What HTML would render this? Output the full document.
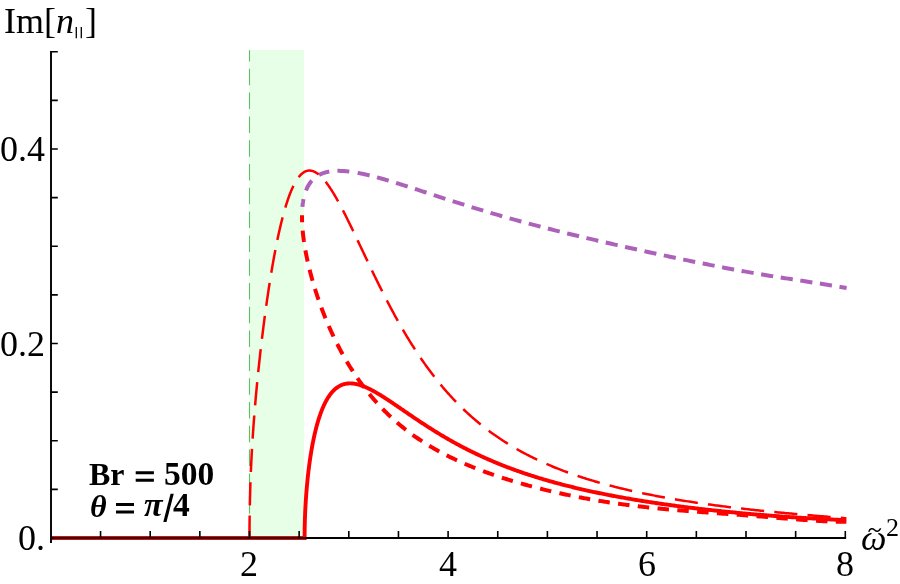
<!DOCTYPE html>
<html><head><meta charset="utf-8"><title>plot</title>
<style>
html,body{margin:0;padding:0;background:#fff;}
body{width:900px;height:584px;overflow:hidden;position:relative;font-family:"Liberation Serif",serif;}
svg{position:absolute;left:0;top:0;}
.t{will-change:transform;position:absolute;white-space:nowrap;line-height:1;color:#000;font-family:"Liberation Serif",serif;}
.n{font-size:36px;}
.b{font-size:32px;font-weight:bold;}
.i{font-style:italic;}
</style></head><body>
<svg width="900" height="584" viewBox="0 0 900 584">
<rect x="249.5" y="50" width="54.5" height="488" fill="#e6ffe6"/>
<path d="M249.5,50.3 V538" stroke="#5fc063" stroke-width="1.1" fill="none" stroke-dasharray="16.5 7.3" stroke-dashoffset="5.3"/>
<path d="M302.42,206.90 L302.46,206.44 L302.51,205.99 L302.56,205.54 L302.61,205.09 L302.66,204.65 L302.71,204.21 L302.77,203.77 L302.82,203.34 L302.88,202.91 L302.95,202.48 L303.01,202.05 L303.08,201.63 L303.14,201.21 L303.22,200.79 L303.29,200.38 L303.36,199.97 L303.44,199.56 L303.52,199.15 L303.60,198.75 L303.68,198.35 L303.77,197.96 L303.86,197.57 L303.94,197.18 L304.04,196.79 L304.13,196.41 L304.23,196.02 L304.32,195.65 L304.42,195.27 L304.53,194.90 L304.63,194.53 L304.74,194.17 L304.84,193.80 L304.96,193.45 L305.07,193.09 L305.18,192.74 L305.30,192.39 L305.42,192.04 L305.54,191.69 L305.66,191.35 L305.79,191.01 L305.92,190.68 L306.05,190.35 L306.18,190.02 L306.31,189.69 L306.45,189.37 L306.58,189.05 L306.72,188.73 L306.87,188.41 L307.01,188.10 L307.16,187.79 L307.31,187.49 L307.46,187.19 L307.61,186.89 L307.76,186.59 L307.92,186.30 L308.08,186.01 L308.24,185.72 L308.40,185.43 L308.57,185.15 L308.74,184.87 L308.91,184.60 L309.08,184.32 L309.25,184.05 L309.43,183.79 L309.61,183.52 L309.79,183.26 L309.97,183.00 L310.15,182.75 L310.34,182.50 L310.53,182.25 L310.72,182.00 L310.91,181.76 L311.11,181.52 L311.30,181.28 L311.50,181.04 L311.70,180.81 L311.91,180.58 L312.11,180.35 L312.32,180.13 L312.53,179.91 L312.74,179.69 L312.95,179.48 L313.17,179.26 L313.39,179.05 L313.61,178.85 L313.83,178.64 L314.05,178.44 L314.28,178.24 L314.51,178.05 L314.74,177.86 L314.97,177.67 L315.21,177.48 L315.44,177.30 L315.68,177.11 L315.92,176.93 L316.17,176.76 L316.41,176.59 L316.66,176.41 L316.91,176.25 L317.16,176.08 L317.42,175.92 L317.67,175.76 L317.93,175.60 L318.19,175.45 L318.45,175.30 L318.72,175.15 L318.98,175.00 L319.25,174.86 L319.52,174.72 L319.80,174.58 L320.07,174.44 L320.35,174.31 L320.63,174.18 L320.91,174.05 L321.19,173.93 L321.48,173.81 L321.76,173.69 L322.05,173.57 L322.35,173.46 L322.64,173.34 L322.94,173.23 L323.23,173.13 L323.53,173.02 L323.84,172.92 L324.14,172.82 L324.45,172.73 L324.76,172.63 L325.07,172.54 L325.38,172.45 L325.69,172.36 L326.01,172.28 L326.33,172.20 L326.65,172.12 L326.97,172.04 L327.30,171.97 L327.63,171.90 L327.96,171.83 L328.29,171.76 L328.62,171.70 L328.96,171.64 L329.30,171.58 L329.64,171.52 L329.98,171.47 L330.32,171.41 L330.67,171.36 L331.02,171.32 L331.37,171.27 L331.72,171.23 L332.08,171.19 L332.44,171.15 L332.79,171.12 L333.16,171.08 L333.52,171.05 L333.88,171.02 L334.25,171.00 L334.62,170.97 L334.99,170.95 L335.37,170.93 L335.74,170.92 L336.12,170.90 L336.50,170.89 L336.88,170.88 L337.27,170.87 L337.66,170.86 L338.04,170.86 L338.44,170.86 L338.83,170.86 L339.22,170.86 L339.62,170.87 L340.02,170.88 L340.42,170.89 L340.82,170.90 L341.23,170.91 L341.64,170.93 L342.05,170.95 L342.46,170.97 L342.87,170.99 L343.29,171.02 L343.71,171.04 L344.13,171.07 L344.55,171.10 L344.97,171.14 L345.40,171.17 L345.83,171.21 L346.26,171.25 L346.69,171.29 L347.13,171.33 L347.57,171.38 L348.01,171.43 L348.45,171.48 L348.89,171.53 L349.34,171.58 L349.78,171.64 L350.23,171.70 L350.69,171.75 L351.14,171.82 L351.60,171.88 L352.05,171.95 L352.51,172.01 L352.98,172.08 L353.44,172.15 L353.91,172.23 L354.38,172.30 L354.85,172.38 L355.32,172.46 L355.80,172.54 L356.27,172.62 L356.75,172.71 L357.23,172.79 L357.72,172.88 L358.20,172.97 L358.69,173.06 L359.18,173.16 L359.67,173.25 L360.17,173.35 L360.66,173.45 L361.16,173.55 L361.66,173.65 L362.16,173.76 L362.67,173.87 L363.17,173.97 L363.68,174.08 L364.19,174.20 L364.71,174.31 L365.22,174.42 L365.74,174.54 L366.26,174.66 L366.78,174.78 L367.30,174.90 L367.83,175.02 L368.36,175.15 L368.89,175.28 L369.42,175.40 L369.95,175.53 L370.49,175.67 L371.03,175.80 L371.57,175.93 L372.11,176.07 L372.65,176.21 L373.20,176.35 L373.75,176.49 L374.30,176.63 L374.85,176.78 L375.41,176.92 L375.97,177.07 L376.53,177.22 L377.09,177.37 L377.65,177.52 L378.22,177.68 L378.78,177.83 L379.35,177.99 L379.93,178.15 L380.50,178.30 L381.08,178.47 L381.66,178.63 L382.24,178.79 L382.82,178.96 L383.40,179.12 L383.99,179.29 L384.58,179.46 L385.17,179.63 L385.76,179.80 L386.36,179.98 L386.96,180.15 L387.55,180.33 L388.16,180.50 L388.76,180.68 L389.37,180.86 L389.97,181.04 L390.58,181.23 L391.20,181.41 L391.81,181.60 L392.43,181.78 L393.04,181.97 L393.66,182.16 L394.29,182.35 L394.91,182.54 L395.54,182.73 L396.17,182.93 L396.80,183.12 L397.43,183.32 L398.07,183.51 L398.70,183.71 L399.34,183.91 L399.99,184.11 L400.63,184.31 L401.27,184.52 L401.92,184.72 L402.57,184.92 L403.22,185.13 L403.88,185.34 L404.54,185.55 L405.19,185.76 L405.85,185.97 L406.52,186.18 L407.18,186.39 L407.85,186.60 L408.52,186.82 L409.19,187.03 L409.86,187.25 L410.54,187.47 L411.21,187.68 L411.89,187.90 L412.58,188.12 L413.26,188.34 L413.94,188.57 L414.63,188.79 L415.32,189.01 L416.01,189.24 L416.71,189.46 L417.41,189.69 L418.10,189.92 L418.80,190.14 L419.51,190.37 L420.21,190.60 L420.92,190.83 L421.63,191.06 L422.34,191.30 L423.05,191.53 L423.77,191.76 L424.48,192.00 L425.20,192.23 L425.93,192.47 L426.65,192.70 L427.38,192.94 L428.10,193.18 L428.83,193.42 L429.57,193.66 L430.30,193.90 L431.04,194.14 L431.77,194.38 L432.51,194.62 L433.26,194.86 L434.00,195.10 L434.75,195.35 L435.50,195.59 L436.25,195.84 L437.00,196.08 L437.76,196.33 L438.52,196.58 L439.27,196.82 L440.04,197.07 L440.80,197.32 L441.57,197.57 L442.33,197.82 L443.10,198.07 L443.88,198.32 L444.65,198.57 L445.43,198.82 L446.21,199.07 L446.99,199.32 L447.77,199.57 L448.55,199.83 L449.34,200.08 L450.13,200.33 L450.92,200.59 L451.71,200.84 L452.51,201.10 L453.31,201.35 L454.11,201.61 L454.91,201.86 L455.71,202.12 L456.52,202.38 L457.33,202.63 L458.14,202.89 L458.95,203.15 L459.76,203.40 L460.58,203.66 L461.40,203.92 L462.22,204.18 L463.04,204.44 L463.87,204.70 L464.69,204.96 L465.52,205.22 L466.35,205.48 L467.19,205.74 L468.02,206.00 L468.86,206.26 L469.70,206.52 L470.54,206.78 L471.38,207.04 L472.23,207.30 L473.08,207.56 L473.93,207.82 L474.78,208.09 L475.64,208.35 L476.49,208.61 L477.35,208.87 L478.21,209.13 L479.07,209.40 L479.94,209.66 L480.81,209.92 L481.68,210.18 L482.55,210.45 L483.42,210.71 L484.30,210.97 L485.17,211.23 L486.05,211.50 L486.93,211.76 L487.82,212.02 L488.70,212.29 L489.59,212.55 L490.48,212.81 L491.37,213.08 L492.27,213.34 L493.17,213.60 L494.06,213.86 L494.96,214.13 L495.87,214.39 L496.77,214.65 L497.68,214.92 L498.59,215.18 L499.50,215.44 L500.41,215.71 L501.33,215.97 L502.25,216.23 L503.17,216.50 L504.09,216.76 L505.01,217.02 L505.94,217.29 L506.87,217.55 L507.80,217.81 L508.73,218.07 L509.66,218.34 L510.60,218.60 L511.54,218.86 L512.48,219.12 L513.42,219.39 L514.37,219.65 L515.31,219.91 L516.26,220.17 L517.21,220.44 L518.17,220.70 L519.12,220.96 L520.08,221.22 L521.04,221.48 L522.00,221.75 L522.97,222.01 L523.93,222.27 L524.90,222.53 L525.87,222.79 L526.84,223.05 L527.82,223.32 L528.79,223.58 L529.77,223.84 L530.75,224.10 L531.74,224.36 L532.72,224.62 L533.71,224.88 L534.70,225.14 L535.69,225.40 L536.68,225.66 L537.68,225.92 L538.68,226.18 L539.68,226.44 L540.68,226.70 L541.68,226.96 L542.69,227.22 L543.70,227.48 L544.71,227.74 L545.72,228.00 L546.73,228.26 L547.75,228.52 L548.77,228.78 L549.79,229.04 L550.81,229.30 L551.84,229.56 L552.86,229.82 L553.89,230.08 L554.93,230.34 L555.96,230.60 L556.99,230.86 L558.03,231.11 L559.07,231.37 L560.11,231.63 L561.16,231.89 L562.20,232.15 L563.25,232.41 L564.30,232.67 L565.35,232.93 L566.41,233.18 L567.47,233.44 L568.52,233.70 L569.59,233.96 L570.65,234.22 L571.71,234.48 L572.78,234.74 L573.85,234.99 L574.92,235.25 L575.99,235.51 L577.07,235.77 L578.15,236.03 L579.23,236.29 L580.31,236.55 L581.39,236.80 L582.48,237.06 L583.57,237.32 L584.66,237.58 L585.75,237.84 L586.85,238.10 L587.94,238.36 L589.04,238.62 L590.14,238.87 L591.25,239.13 L592.35,239.39 L593.46,239.65 L594.57,239.91 L595.68,240.17 L596.79,240.43 L597.91,240.69 L599.03,240.95 L600.15,241.21 L601.27,241.47 L602.39,241.73 L603.52,241.98 L604.65,242.24 L605.78,242.50 L606.91,242.76 L608.04,243.02 L609.18,243.28 L610.32,243.54 L611.46,243.81 L612.60,244.07 L613.75,244.33 L614.90,244.59 L616.04,244.85 L617.20,245.11 L618.35,245.37 L619.51,245.63 L620.66,245.89 L621.82,246.15 L622.99,246.41 L624.15,246.68 L625.32,246.94 L626.48,247.20 L627.65,247.46 L628.83,247.72 L630.00,247.99 L631.18,248.25 L632.36,248.51 L633.54,248.77 L634.72,249.04 L635.91,249.30 L637.09,249.56 L638.28,249.83 L639.47,250.09 L640.67,250.35 L641.86,250.62 L643.06,250.88 L644.26,251.14 L645.46,251.41 L646.67,251.67 L647.87,251.93 L649.08,252.20 L650.29,252.46 L651.51,252.73 L652.72,252.99 L653.94,253.25 L655.16,253.52 L656.38,253.78 L657.60,254.05 L658.83,254.31 L660.05,254.58 L661.28,254.84 L662.51,255.11 L663.75,255.37 L664.98,255.64 L666.22,255.90 L667.46,256.17 L668.70,256.43 L669.95,256.69 L671.19,256.96 L672.44,257.22 L673.69,257.49 L674.94,257.75 L676.20,258.02 L677.46,258.28 L678.72,258.55 L679.98,258.81 L681.24,259.08 L682.50,259.34 L683.77,259.60 L685.04,259.87 L686.31,260.13 L687.59,260.40 L688.86,260.66 L690.14,260.92 L691.42,261.19 L692.70,261.45 L693.99,261.71 L695.27,261.97 L696.56,262.24 L697.85,262.50 L699.15,262.76 L700.44,263.02 L701.74,263.28 L703.04,263.54 L704.34,263.80 L705.64,264.06 L706.95,264.32 L708.25,264.58 L709.56,264.84 L710.87,265.10 L712.19,265.36 L713.50,265.62 L714.82,265.87 L716.14,266.13 L717.46,266.39 L718.79,266.64 L720.11,266.90 L721.44,267.15 L722.77,267.41 L724.11,267.66 L725.44,267.92 L726.78,268.17 L728.12,268.42 L729.46,268.67 L730.80,268.92 L732.15,269.18 L733.49,269.43 L734.84,269.67 L736.19,269.92 L737.55,270.17 L738.90,270.42 L740.26,270.66 L741.62,270.91 L742.98,271.16 L744.35,271.40 L745.72,271.64 L747.08,271.89 L748.45,272.13 L749.83,272.37 L751.20,272.61 L752.58,272.85 L753.96,273.09 L755.34,273.33 L756.72,273.57 L758.11,273.81 L759.50,274.04 L760.89,274.28 L762.28,274.51 L763.67,274.75 L765.07,274.98 L766.46,275.21 L767.86,275.44 L769.27,275.67 L770.67,275.91 L772.08,276.13 L773.49,276.36 L774.90,276.59 L776.31,276.82 L777.72,277.05 L779.14,277.27 L780.56,277.50 L781.98,277.72 L783.40,277.95 L784.83,278.17 L786.26,278.40 L787.69,278.62 L789.12,278.84 L790.55,279.07 L791.99,279.29 L793.43,279.51 L794.87,279.73 L796.31,279.95 L797.75,280.18 L799.20,280.40 L800.65,280.62 L802.10,280.84 L803.55,281.06 L805.01,281.28 L806.46,281.51 L807.92,281.73 L809.38,281.95 L810.85,282.18 L812.31,282.40 L813.78,282.63 L815.25,282.85 L816.72,283.08 L818.20,283.31 L819.67,283.54 L821.15,283.77 L822.63,284.00 L824.11,284.23 L825.60,284.47 L827.08,284.70 L828.57,284.94 L830.06,285.18 L831.56,285.42 L833.05,285.67 L834.55,285.92 L836.05,286.17 L837.55,286.42 L839.05,286.68 L840.56,286.94 L842.06,287.21 L843.57,287.47 L845.09,287.75 L846.60,288.02" stroke="#ad62ba" stroke-width="4" fill="none" stroke-dasharray="7.9 8.9 11.6 9.2 10.8 8.2 11.9 8.48 12.2 7.63 12.2 7.63 12.2 7.63 12.2 7.63 12.2 7.63 12.2 7.63 12.2 7.63 12.2 7.63 12.2 7.63 12.2 7.63 12.2 7.63 12.2 7.63 12.2 7.63 12.2 7.63 12.2 7.63 12.2 7.63 12.2 7.63 12.2 7.63 12.2 7.63 12.2 7.63 12.2 7.63 12.2 7.63 12.2 7.63 12.2 7.63 12.2 7.63 12.2 7.63 12.2 7.63 12.2 7.63 12.2 7.63 12.2 7.63 12.2 7.63 12.2 7.63 12.2 7.63 12.2 7.63 12.2 7.63 12.2 7.63 12.2 7.63 12.2 7.63 12.2 7.63 12.2 7.63 12.2 7.63 12.2 7.63 12.2 7.63 12.2 7.63 12.2 7.63 12.2 7.63 12.2 7.63 12.2 7.63 12.2 7.63 12.2 7.63 12.2 7.63 12.2 7.63 12.2 7.63 12.2 7.63 12.2 7.63 12.2 7.63 12.2 7.63 12.2 7.63 12.2 7.63 12.2 7.63 12.2 7.63 12.2 7.63 12.2 7.63 12.2 7.63 12.2 7.63 12.2 7.63 12.2 7.63 12.2 7.63 12.2 7.63 12.2 7.63 12.2 7.63 12.2 7.63"/>
<path d="M302.01,215.20 L302.00,215.73 L302.00,216.25 L302.00,216.79 L302.00,217.32 L302.01,217.86 L302.01,218.40 L302.02,218.94 L302.03,219.49 L302.04,220.04 L302.06,220.60 L302.08,221.15 L302.10,221.71 L302.12,222.27 L302.14,222.84 L302.17,223.41 L302.20,223.98 L302.23,224.55 L302.26,225.13 L302.30,225.71 L302.34,226.29 L302.38,226.88 L302.42,227.47 L302.46,228.06 L302.51,228.65 L302.56,229.25 L302.61,229.85 L302.66,230.45 L302.72,231.06 L302.78,231.67 L302.84,232.28 L302.90,232.89 L302.96,233.51 L303.03,234.13 L303.10,234.75 L303.17,235.38 L303.25,236.00 L303.32,236.63 L303.40,237.27 L303.48,237.90 L303.56,238.54 L303.65,239.18 L303.74,239.83 L303.82,240.47 L303.92,241.12 L304.01,241.77 L304.11,242.43 L304.20,243.08 L304.31,243.74 L304.41,244.41 L304.51,245.07 L304.62,245.74 L304.73,246.41 L304.84,247.08 L304.96,247.75 L305.07,248.43 L305.19,249.11 L305.31,249.79 L305.44,250.47 L305.56,251.16 L305.69,251.84 L305.82,252.54 L305.95,253.23 L306.08,253.92 L306.22,254.62 L306.36,255.32 L306.50,256.02 L306.64,256.73 L306.79,257.43 L306.94,258.14 L307.09,258.85 L307.24,259.56 L307.39,260.28 L307.55,260.99 L307.71,261.71 L307.87,262.43 L308.03,263.15 L308.20,263.88 L308.37,264.60 L308.54,265.33 L308.71,266.06 L308.89,266.79 L309.06,267.53 L309.24,268.26 L309.42,269.00 L309.61,269.74 L309.79,270.48 L309.98,271.22 L310.17,271.97 L310.36,272.71 L310.56,273.46 L310.76,274.21 L310.96,274.96 L311.16,275.72 L311.36,276.47 L311.57,277.22 L311.78,277.98 L311.99,278.74 L312.20,279.50 L312.41,280.26 L312.63,281.03 L312.85,281.79 L313.07,282.56 L313.30,283.32 L313.52,284.09 L313.75,284.86 L313.98,285.63 L314.22,286.40 L314.45,287.18 L314.69,287.95 L314.93,288.73 L315.17,289.50 L315.42,290.28 L315.66,291.06 L315.91,291.84 L316.16,292.62 L316.41,293.40 L316.67,294.18 L316.93,294.97 L317.19,295.75 L317.45,296.54 L317.72,297.32 L317.98,298.11 L318.25,298.90 L318.52,299.69 L318.80,300.48 L319.07,301.27 L319.35,302.06 L319.63,302.85 L319.91,303.64 L320.20,304.43 L320.48,305.22 L320.77,306.02 L321.06,306.81 L321.36,307.61 L321.65,308.40 L321.95,309.20 L322.25,309.99 L322.56,310.79 L322.86,311.59 L323.17,312.38 L323.48,313.18 L323.79,313.98 L324.10,314.77 L324.42,315.57 L324.74,316.37 L325.06,317.17 L325.38,317.96 L325.71,318.76 L326.03,319.56 L326.36,320.36 L326.69,321.16 L327.03,321.95 L327.37,322.75 L327.70,323.55 L328.04,324.35 L328.39,325.15 L328.73,325.94 L329.08,326.74 L329.43,327.54 L329.78,328.33 L330.14,329.13 L330.49,329.92 L330.85,330.72 L331.21,331.52 L331.58,332.31 L331.94,333.10 L332.31,333.90 L332.68,334.69 L333.05,335.48 L333.43,336.28 L333.80,337.07 L334.18,337.86 L334.56,338.65 L334.95,339.44 L335.33,340.23 L335.72,341.02 L336.11,341.80 L336.50,342.59 L336.90,343.38 L337.30,344.16 L337.70,344.95 L338.10,345.73 L338.50,346.51 L338.91,347.29 L339.31,348.07 L339.72,348.85 L340.14,349.63 L340.55,350.41 L340.97,351.18 L341.39,351.96 L341.81,352.73 L342.23,353.51 L342.66,354.28 L343.09,355.05 L343.52,355.82 L343.95,356.59 L344.39,357.35 L344.83,358.12 L345.27,358.88 L345.71,359.65 L346.15,360.41 L346.60,361.17 L347.05,361.93 L347.50,362.68 L347.95,363.44 L348.41,364.19 L348.86,364.95 L349.32,365.70 L349.79,366.45 L350.25,367.20 L350.72,367.94 L351.19,368.69 L351.66,369.43 L352.13,370.17 L352.60,370.91 L353.08,371.65 L353.56,372.39 L354.05,373.12 L354.53,373.85 L355.02,374.59 L355.51,375.32 L356.00,376.04 L356.49,376.77 L356.99,377.49 L357.48,378.21 L357.98,378.94 L358.49,379.65 L358.99,380.37 L359.50,381.08 L360.01,381.80 L360.52,382.51 L361.03,383.22 L361.55,383.92 L362.07,384.63 L362.59,385.33 L363.11,386.03 L363.64,386.73 L364.16,387.42 L364.69,388.12 L365.22,388.81 L365.76,389.50 L366.29,390.19 L366.83,390.87 L367.37,391.56 L367.92,392.24 L368.46,392.92 L369.01,393.59 L369.56,394.27 L370.11,394.94 L370.66,395.61 L371.22,396.28 L371.78,396.94 L372.34,397.61 L372.90,398.27 L373.47,398.93 L374.04,399.58 L374.61,400.24 L375.18,400.89 L375.75,401.54 L376.33,402.18 L376.91,402.83 L377.49,403.47 L378.07,404.11 L378.66,404.75 L379.25,405.38 L379.84,406.02 L380.43,406.65 L381.02,407.27 L381.62,407.90 L382.22,408.52 L382.82,409.14 L383.42,409.76 L384.03,410.38 L384.64,410.99 L385.25,411.60 L385.86,412.21 L386.48,412.81 L387.09,413.42 L387.71,414.02 L388.33,414.62 L388.96,415.21 L389.58,415.81 L390.21,416.40 L390.84,416.98 L391.47,417.57 L392.11,418.15 L392.75,418.73 L393.39,419.31 L394.03,419.89 L394.67,420.46 L395.32,421.03 L395.97,421.60 L396.62,422.17 L397.27,422.73 L397.93,423.29 L398.58,423.85 L399.24,424.41 L399.90,424.96 L400.57,425.51 L401.23,426.06 L401.90,426.61 L402.57,427.15 L403.25,427.69 L403.92,428.23 L404.60,428.77 L405.28,429.30 L405.96,429.83 L406.65,430.36 L407.33,430.89 L408.02,431.41 L408.71,431.93 L409.41,432.45 L410.10,432.97 L410.80,433.48 L411.50,434.00 L412.20,434.50 L412.91,435.01 L413.61,435.52 L414.32,436.02 L415.03,436.52 L415.75,437.02 L416.46,437.51 L417.18,438.00 L417.90,438.49 L418.62,438.98 L419.35,439.47 L420.08,439.95 L420.81,440.43 L421.54,440.91 L422.27,441.39 L423.01,441.86 L423.75,442.33 L424.49,442.80 L425.23,443.27 L425.97,443.74 L426.72,444.20 L427.47,444.66 L428.22,445.12 L428.98,445.57 L429.73,446.03 L430.49,446.48 L431.25,446.93 L432.01,447.38 L432.78,447.82 L433.55,448.26 L434.32,448.71 L435.09,449.14 L435.86,449.58 L436.64,450.02 L437.42,450.45 L438.20,450.88 L438.98,451.31 L439.77,451.73 L440.56,452.16 L441.34,452.58 L442.14,453.00 L442.93,453.42 L443.73,453.83 L444.53,454.25 L445.33,454.66 L446.13,455.07 L446.94,455.48 L447.74,455.88 L448.56,456.29 L449.37,456.69 L450.18,457.09 L451.00,457.49 L451.82,457.89 L452.64,458.28 L453.46,458.67 L454.29,459.07 L455.12,459.45 L455.95,459.84 L456.78,460.23 L457.61,460.61 L458.45,460.99 L459.29,461.37 L460.13,461.75 L460.98,462.13 L461.82,462.50 L462.67,462.88 L463.52,463.25 L464.37,463.62 L465.23,463.99 L466.09,464.35 L466.95,464.72 L467.81,465.08 L468.67,465.44 L469.54,465.80 L470.41,466.16 L471.28,466.52 L472.15,466.87 L473.02,467.23 L473.90,467.58 L474.78,467.93 L475.66,468.28 L476.55,468.62 L477.43,468.97 L478.32,469.31 L479.21,469.66 L480.11,470.00 L481.00,470.34 L481.90,470.68 L482.80,471.01 L483.70,471.35 L484.61,471.68 L485.51,472.02 L486.42,472.35 L487.33,472.68 L488.25,473.00 L489.16,473.33 L490.08,473.66 L491.00,473.98 L491.92,474.30 L492.85,474.62 L493.77,474.94 L494.70,475.26 L495.63,475.58 L496.57,475.90 L497.50,476.21 L498.44,476.52 L499.38,476.83 L500.33,477.15 L501.27,477.45 L502.22,477.76 L503.17,478.07 L504.12,478.37 L505.07,478.68 L506.03,478.98 L506.99,479.28 L507.95,479.58 L508.91,479.88 L509.87,480.18 L510.84,480.48 L511.81,480.77 L512.78,481.07 L513.76,481.36 L514.73,481.65 L515.71,481.94 L516.69,482.23 L517.68,482.52 L518.66,482.80 L519.65,483.09 L520.64,483.37 L521.63,483.66 L522.62,483.94 L523.62,484.22 L524.62,484.50 L525.62,484.78 L526.62,485.05 L527.63,485.33 L528.64,485.60 L529.65,485.88 L530.66,486.15 L531.67,486.42 L532.69,486.69 L533.71,486.96 L534.73,487.22 L535.75,487.49 L536.78,487.76 L537.81,488.02 L538.84,488.28 L539.87,488.54 L540.90,488.80 L541.94,489.06 L542.98,489.32 L544.02,489.58 L545.06,489.83 L546.11,490.09 L547.16,490.34 L548.21,490.59 L549.26,490.84 L550.32,491.09 L551.37,491.34 L552.43,491.58 L553.49,491.83 L554.56,492.07 L555.62,492.32 L556.69,492.56 L557.76,492.80 L558.84,493.04 L559.91,493.27 L560.99,493.51 L562.07,493.75 L563.15,493.98 L564.23,494.21 L565.32,494.44 L566.41,494.67 L567.50,494.90 L568.59,495.13 L569.69,495.36 L570.78,495.58 L571.88,495.81 L572.99,496.03 L574.09,496.25 L575.20,496.47 L576.31,496.69 L577.42,496.90 L578.53,497.12 L579.65,497.34 L580.76,497.55 L581.88,497.76 L583.01,497.97 L584.13,498.18 L585.26,498.39 L586.39,498.59 L587.52,498.80 L588.65,499.00 L589.79,499.20 L590.92,499.40 L592.06,499.60 L593.21,499.80 L594.35,500.00 L595.50,500.19 L596.65,500.39 L597.80,500.58 L598.95,500.77 L600.11,500.96 L601.27,501.15 L602.43,501.34 L603.59,501.52 L604.75,501.71 L605.92,501.89 L607.09,502.07 L608.26,502.25 L609.44,502.43 L610.61,502.60 L611.79,502.78 L612.97,502.95 L614.15,503.13 L615.34,503.30 L616.53,503.47 L617.72,503.64 L618.91,503.80 L620.10,503.97 L621.30,504.13 L622.50,504.30 L623.70,504.46 L624.90,504.62 L626.10,504.78 L627.31,504.93 L628.52,505.09 L629.73,505.24 L630.95,505.40 L632.16,505.55 L633.38,505.70 L634.60,505.85 L635.83,506.00 L637.05,506.14 L638.28,506.29 L639.51,506.43 L640.74,506.57 L641.98,506.71 L643.21,506.85 L644.45,506.99 L645.69,507.13 L646.94,507.26 L648.18,507.40 L649.43,507.53 L650.68,507.67 L651.93,507.80 L653.19,507.93 L654.45,508.05 L655.70,508.18 L656.97,508.31 L658.23,508.43 L659.50,508.56 L660.76,508.68 L662.03,508.80 L663.31,508.92 L664.58,509.04 L665.86,509.16 L667.14,509.28 L668.42,509.40 L669.70,509.51 L670.99,509.63 L672.28,509.74 L673.57,509.85 L674.86,509.97 L676.16,510.08 L677.45,510.19 L678.75,510.30 L680.05,510.41 L681.36,510.52 L682.67,510.62 L683.97,510.73 L685.28,510.84 L686.60,510.94 L687.91,511.05 L689.23,511.15 L690.55,511.26 L691.87,511.36 L693.20,511.46 L694.52,511.56 L695.85,511.67 L697.18,511.77 L698.52,511.87 L699.85,511.97 L701.19,512.07 L702.53,512.17 L703.87,512.27 L705.22,512.37 L706.56,512.47 L707.91,512.57 L709.26,512.67 L710.62,512.77 L711.97,512.87 L713.33,512.97 L714.69,513.06 L716.05,513.16 L717.42,513.26 L718.78,513.36 L720.15,513.46 L721.52,513.56 L722.90,513.66 L724.27,513.76 L725.65,513.86 L727.03,513.96 L728.42,514.06 L729.80,514.16 L731.19,514.26 L732.58,514.37 L733.97,514.47 L735.36,514.57 L736.76,514.67 L738.16,514.78 L739.56,514.88 L740.96,514.99 L742.36,515.09 L743.77,515.20 L745.18,515.30 L746.59,515.41 L748.01,515.52 L749.42,515.63 L750.84,515.73 L752.26,515.84 L753.69,515.95 L755.11,516.06 L756.54,516.18 L757.97,516.29 L759.40,516.40 L760.84,516.51 L762.27,516.63 L763.71,516.74 L765.15,516.86 L766.59,516.97 L768.04,517.09 L769.49,517.20 L770.94,517.32 L772.39,517.44 L773.84,517.56 L775.30,517.67 L776.76,517.79 L778.22,517.91 L779.69,518.03 L781.15,518.15 L782.62,518.27 L784.09,518.39 L785.56,518.51 L787.04,518.63 L788.51,518.75 L789.99,518.87 L791.47,518.99 L792.96,519.10 L794.44,519.22 L795.93,519.34 L797.42,519.46 L798.91,519.57 L800.41,519.69 L801.91,519.80 L803.41,519.91 L804.91,520.02 L806.41,520.13 L807.92,520.24 L809.43,520.35 L810.94,520.45 L812.45,520.55 L813.96,520.65 L815.48,520.75 L817.00,520.84 L818.52,520.93 L820.05,521.01 L821.57,521.10 L823.10,521.18 L824.63,521.25 L826.17,521.32 L827.70,521.39 L829.24,521.45 L830.78,521.50 L832.32,521.55 L833.86,521.60 L835.41,521.63 L836.96,521.66 L838.51,521.69 L840.06,521.70 L841.62,521.71 L843.18,521.71 L844.74,521.70 L846.30,521.68" stroke="#ff0000" stroke-width="4" fill="none" stroke-dasharray="7.05 8.37 11.5 8.37 11.5 8.37 11.5 8.37 11.5 8.37 11.5 8.37 11.5 8.37 11.5 8.37 11.5 8.37 11.5 8.37 11.5 8.37 11.5 8.37 11.5 8.37 11.5 8.37 11.5 8.37 11.5 8.37 11.5 8.37 11.5 8.37 11.5 8.37 11.5 8.37 11.5 8.37 11.5 8.37 11.5 8.37 11.5 8.37 11.5 8.37 11.5 8.37 11.5 8.37 11.5 8.37 11.5 8.37 11.5 8.37 11.5 8.37 11.5 8.37 11.5 8.37 11.5 8.37 11.5 8.37 11.5 8.37 11.5 8.37 11.5 8.37 11.5 8.37 11.5 8.37 11.5 8.37 11.5 8.37 11.5 8.37 11.5 8.37 11.5 8.37 11.5 8.37 11.5 8.37 11.5 8.37 11.5 8.37 11.5 8.37 11.5 8.37 11.5 8.37 11.5 8.37 11.5 8.37 11.5 8.37 11.5 8.37 11.5 8.37 11.5 8.37 11.5 8.37 11.5 8.37 11.5 8.37 11.5 8.37 11.5 8.37 11.5 8.37 11.5 8.37 11.5 8.37 11.5 8.37 11.5 8.37 11.5 8.37 11.5 8.37 11.5 8.37 11.5 8.37 11.5 8.37 11.5 8.37 11.5 8.37 11.5 8.37"/>
<path d="M249.50,538.00 L249.50,535.99 L249.50,533.98 L249.51,531.97 L249.52,529.96 L249.53,527.95 L249.54,525.94 L249.56,523.93 L249.58,521.93 L249.60,519.92 L249.62,517.92 L249.65,515.92 L249.68,513.93 L249.71,511.93 L249.74,509.94 L249.77,507.95 L249.81,505.97 L249.85,503.98 L249.90,502.00 L249.94,500.03 L249.99,498.05 L250.04,496.08 L250.09,494.11 L250.15,492.14 L250.20,490.18 L250.26,488.22 L250.33,486.26 L250.39,484.31 L250.46,482.35 L250.53,480.40 L250.60,478.45 L250.67,476.51 L250.75,474.56 L250.83,472.62 L250.91,470.68 L251.00,468.74 L251.08,466.80 L251.17,464.87 L251.26,462.93 L251.36,461.00 L251.45,459.07 L251.55,457.14 L251.65,455.21 L251.76,453.28 L251.86,451.35 L251.97,449.42 L252.08,447.49 L252.20,445.56 L252.31,443.63 L252.43,441.71 L252.55,439.78 L252.68,437.85 L252.80,435.92 L252.93,433.98 L253.06,432.05 L253.19,430.12 L253.33,428.18 L253.47,426.25 L253.61,424.31 L253.75,422.37 L253.90,420.43 L254.05,418.49 L254.20,416.54 L254.35,414.60 L254.50,412.65 L254.66,410.70 L254.82,408.75 L254.98,406.79 L255.15,404.83 L255.32,402.87 L255.49,400.91 L255.66,398.95 L255.83,396.98 L256.01,395.01 L256.19,393.03 L256.37,391.06 L256.56,389.08 L256.74,387.09 L256.93,385.11 L257.12,383.12 L257.32,381.13 L257.51,379.14 L257.71,377.14 L257.91,375.14 L258.12,373.14 L258.32,371.13 L258.53,369.12 L258.75,367.11 L258.96,365.10 L259.18,363.08 L259.39,361.06 L259.61,359.04 L259.84,357.01 L260.06,354.99 L260.29,352.96 L260.52,350.93 L260.76,348.89 L260.99,346.86 L261.23,344.82 L261.47,342.78 L261.71,340.74 L261.96,338.70 L262.21,336.66 L262.46,334.61 L262.71,332.57 L262.97,330.52 L263.22,328.48 L263.48,326.43 L263.75,324.38 L264.01,322.34 L264.28,320.29 L264.55,318.24 L264.82,316.20 L265.10,314.15 L265.37,312.11 L265.65,310.07 L265.94,308.03 L266.22,305.99 L266.51,303.95 L266.80,301.92 L267.09,299.89 L267.38,297.86 L267.68,295.83 L267.98,293.81 L268.28,291.80 L268.59,289.78 L268.89,287.77 L269.20,285.77 L269.51,283.77 L269.83,281.78 L270.14,279.79 L270.46,277.81 L270.78,275.84 L271.11,273.87 L271.43,271.91 L271.76,269.96 L272.09,268.01 L272.43,266.08 L272.76,264.15 L273.10,262.23 L273.44,260.32 L273.78,258.43 L274.13,256.54 L274.48,254.66 L274.83,252.79 L275.18,250.94 L275.54,249.09 L275.89,247.26 L276.25,245.44 L276.62,243.64 L276.98,241.85 L277.35,240.07 L277.72,238.30 L278.09,236.55 L278.47,234.82 L278.85,233.10 L279.23,231.39 L279.61,229.71 L279.99,228.04 L280.38,226.38 L280.77,224.75 L281.16,223.13 L281.56,221.53 L281.95,219.95 L282.35,218.38 L282.75,216.84 L283.16,215.31 L283.56,213.81 L283.97,212.33 L284.39,210.86 L284.80,209.42 L285.22,208.00 L285.64,206.61 L286.06,205.23 L286.48,203.88 L286.91,202.55 L287.34,201.24 L287.77,199.96 L288.20,198.70 L288.64,197.46 L289.07,196.25 L289.52,195.07 L289.96,193.90 L290.41,192.77 L290.85,191.66 L291.30,190.58 L291.76,189.52 L292.21,188.49 L292.67,187.49 L293.13,186.51 L293.59,185.56 L294.06,184.64 L294.53,183.75 L295.00,182.88 L295.47,182.04 L295.95,181.23 L296.42,180.45 L296.90,179.70 L297.39,178.98 L297.87,178.28 L298.36,177.62 L298.85,176.98 L299.34,176.38 L299.83,175.80 L300.33,175.26 L300.83,174.74 L301.33,174.25 L301.84,173.80 L302.34,173.37 L302.85,172.97 L303.37,172.61 L303.88,172.27 L304.40,171.96 L304.92,171.69 L305.44,171.44 L305.96,171.23 L306.49,171.04 L307.02,170.89 L307.55,170.76 L308.08,170.67 L308.62,170.61 L309.16,170.57 L309.70,170.57 L310.24,170.59 L310.79,170.65 L311.34,170.74 L311.89,170.85 L312.44,171.00 L313.00,171.17 L313.55,171.37 L314.11,171.61 L314.68,171.87 L315.24,172.16 L315.81,172.48 L316.38,172.82 L316.95,173.20 L317.53,173.60 L318.11,174.03 L318.69,174.49 L319.27,174.98 L319.86,175.49 L320.44,176.03 L321.03,176.60 L321.63,177.19 L322.22,177.81 L322.82,178.46 L323.42,179.13 L324.02,179.83 L324.62,180.55 L325.23,181.29 L325.84,182.07 L326.45,182.86 L327.07,183.68 L327.68,184.52 L328.30,185.39 L328.92,186.28 L329.55,187.19 L330.18,188.12 L330.80,189.08 L331.44,190.05 L332.07,191.05 L332.71,192.07 L333.34,193.11 L333.99,194.17 L334.63,195.25 L335.28,196.35 L335.92,197.47 L336.58,198.61 L337.23,199.76 L337.89,200.93 L338.54,202.13 L339.20,203.33 L339.87,204.56 L340.53,205.80 L341.20,207.06 L341.87,208.33 L342.54,209.62 L343.22,210.92 L343.90,212.24 L344.58,213.58 L345.26,214.92 L345.95,216.28 L346.63,217.65 L347.32,219.04 L348.02,220.44 L348.71,221.85 L349.41,223.27 L350.11,224.70 L350.81,226.15 L351.52,227.60 L352.22,229.06 L352.93,230.54 L353.65,232.02 L354.36,233.51 L355.08,235.01 L355.80,236.52 L356.52,238.04 L357.24,239.56 L357.97,241.10 L358.70,242.63 L359.43,244.18 L360.16,245.73 L360.90,247.29 L361.64,248.85 L362.38,250.42 L363.13,251.99 L363.87,253.57 L364.62,255.15 L365.37,256.73 L366.12,258.32 L366.88,259.91 L367.64,261.51 L368.40,263.11 L369.16,264.70 L369.93,266.31 L370.70,267.91 L371.47,269.51 L372.24,271.12 L373.02,272.73 L373.80,274.33 L374.58,275.94 L375.36,277.55 L376.14,279.16 L376.93,280.76 L377.72,282.37 L378.52,283.98 L379.31,285.58 L380.11,287.18 L380.91,288.78 L381.71,290.38 L382.52,291.98 L383.32,293.58 L384.13,295.17 L384.94,296.76 L385.76,298.34 L386.58,299.93 L387.40,301.51 L388.22,303.08 L389.04,304.66 L389.87,306.23 L390.70,307.79 L391.53,309.35 L392.37,310.91 L393.20,312.46 L394.04,314.00 L394.88,315.55 L395.73,317.08 L396.57,318.61 L397.42,320.14 L398.27,321.66 L399.13,323.17 L399.98,324.68 L400.84,326.19 L401.70,327.68 L402.57,329.17 L403.43,330.66 L404.30,332.14 L405.17,333.61 L406.05,335.07 L406.92,336.53 L407.80,337.98 L408.68,339.43 L409.56,340.86 L410.45,342.29 L411.34,343.72 L412.23,345.13 L413.12,346.54 L414.02,347.94 L414.91,349.33 L415.81,350.72 L416.72,352.10 L417.62,353.47 L418.53,354.83 L419.44,356.19 L420.35,357.54 L421.27,358.88 L422.18,360.21 L423.10,361.53 L424.03,362.85 L424.95,364.15 L425.88,365.45 L426.81,366.75 L427.74,368.03 L428.67,369.30 L429.61,370.57 L430.55,371.83 L431.49,373.08 L432.43,374.32 L433.38,375.56 L434.33,376.78 L435.28,378.00 L436.24,379.21 L437.19,380.41 L438.15,381.61 L439.11,382.79 L440.08,383.97 L441.04,385.14 L442.01,386.29 L442.98,387.45 L443.96,388.59 L444.93,389.73 L445.91,390.85 L446.89,391.97 L447.87,393.08 L448.86,394.18 L449.85,395.28 L450.84,396.36 L451.83,397.44 L452.83,398.51 L453.82,399.57 L454.83,400.63 L455.83,401.67 L456.83,402.71 L457.84,403.74 L458.85,404.76 L459.86,405.78 L460.88,406.78 L461.90,407.78 L462.92,408.77 L463.94,409.75 L464.96,410.73 L465.99,411.70 L467.02,412.65 L468.05,413.61 L469.09,414.55 L470.12,415.49 L471.16,416.42 L472.21,417.34 L473.25,418.25 L474.30,419.16 L475.35,420.06 L476.40,420.95 L477.45,421.83 L478.51,422.71 L479.57,423.58 L480.63,424.45 L481.69,425.30 L482.76,426.15 L483.83,426.99 L484.90,427.83 L485.97,428.66 L487.05,429.48 L488.13,430.29 L489.21,431.10 L490.29,431.90 L491.38,432.70 L492.47,433.48 L493.56,434.26 L494.65,435.04 L495.74,435.81 L496.84,436.57 L497.94,437.32 L499.05,438.07 L500.15,438.81 L501.26,439.55 L502.37,440.28 L503.48,441.00 L504.60,441.72 L505.72,442.43 L506.84,443.14 L507.96,443.84 L509.08,444.53 L510.21,445.22 L511.34,445.90 L512.47,446.58 L513.61,447.25 L514.74,447.92 L515.88,448.58 L517.03,449.23 L518.17,449.88 L519.32,450.52 L520.47,451.16 L521.62,451.79 L522.77,452.42 L523.93,453.04 L525.09,453.65 L526.25,454.26 L527.41,454.87 L528.58,455.47 L529.75,456.07 L530.92,456.66 L532.10,457.24 L533.27,457.82 L534.45,458.40 L535.63,458.97 L536.81,459.53 L538.00,460.10 L539.19,460.65 L540.38,461.20 L541.57,461.75 L542.77,462.29 L543.97,462.83 L545.17,463.36 L546.37,463.89 L547.58,464.42 L548.78,464.94 L550.00,465.45 L551.21,465.97 L552.42,466.47 L553.64,466.98 L554.86,467.48 L556.08,467.97 L557.31,468.46 L558.54,468.95 L559.77,469.43 L561.00,469.91 L562.23,470.38 L563.47,470.85 L564.71,471.32 L565.95,471.78 L567.20,472.24 L568.45,472.70 L569.69,473.15 L570.95,473.60 L572.20,474.04 L573.46,474.48 L574.72,474.92 L575.98,475.35 L577.24,475.78 L578.51,476.21 L579.78,476.63 L581.05,477.05 L582.32,477.46 L583.60,477.88 L584.88,478.29 L586.16,478.69 L587.44,479.10 L588.73,479.49 L590.02,479.89 L591.31,480.28 L592.60,480.67 L593.90,481.06 L595.20,481.44 L596.50,481.82 L597.80,482.20 L599.11,482.58 L600.42,482.95 L601.73,483.32 L603.04,483.68 L604.36,484.04 L605.67,484.40 L606.99,484.76 L608.32,485.11 L609.64,485.47 L610.97,485.81 L612.30,486.16 L613.63,486.50 L614.97,486.84 L616.31,487.18 L617.65,487.52 L618.99,487.85 L620.33,488.18 L621.68,488.51 L623.03,488.83 L624.38,489.15 L625.74,489.47 L627.09,489.79 L628.45,490.10 L629.81,490.42 L631.18,490.73 L632.55,491.03 L633.91,491.34 L635.29,491.64 L636.66,491.94 L638.04,492.24 L639.42,492.53 L640.80,492.83 L642.18,493.12 L643.57,493.41 L644.96,493.69 L646.35,493.98 L647.74,494.26 L649.14,494.54 L650.54,494.82 L651.94,495.10 L653.34,495.37 L654.75,495.64 L656.15,495.91 L657.57,496.18 L658.98,496.44 L660.39,496.71 L661.81,496.97 L663.23,497.23 L664.66,497.49 L666.08,497.74 L667.51,498.00 L668.94,498.25 L670.37,498.50 L671.81,498.75 L673.25,498.99 L674.69,499.24 L676.13,499.48 L677.57,499.72 L679.02,499.96 L680.47,500.20 L681.92,500.43 L683.38,500.67 L684.83,500.90 L686.29,501.13 L687.76,501.36 L689.22,501.58 L690.69,501.81 L692.16,502.03 L693.63,502.26 L695.10,502.48 L696.58,502.70 L698.06,502.91 L699.54,503.13 L701.02,503.34 L702.51,503.56 L704.00,503.77 L705.49,503.98 L706.99,504.18 L708.48,504.39 L709.98,504.60 L711.48,504.80 L712.99,505.00 L714.49,505.20 L716.00,505.40 L717.51,505.60 L719.02,505.80 L720.54,505.99 L722.06,506.19 L723.58,506.38 L725.10,506.57 L726.63,506.76 L728.16,506.95 L729.69,507.14 L731.22,507.32 L732.75,507.51 L734.29,507.69 L735.83,507.88 L737.38,508.06 L738.92,508.24 L740.47,508.42 L742.02,508.59 L743.57,508.77 L745.13,508.95 L746.68,509.12 L748.24,509.29 L749.80,509.47 L751.37,509.64 L752.94,509.81 L754.51,509.98 L756.08,510.14 L757.65,510.31 L759.23,510.48 L760.81,510.64 L762.39,510.81 L763.97,510.97 L765.56,511.13 L767.15,511.29 L768.74,511.45 L770.34,511.61 L771.93,511.77 L773.53,511.93 L775.13,512.09 L776.74,512.24 L778.34,512.40 L779.95,512.55 L781.56,512.71 L783.18,512.86 L784.79,513.01 L786.41,513.16 L788.03,513.31 L789.65,513.46 L791.28,513.61 L792.91,513.76 L794.54,513.91 L796.17,514.06 L797.81,514.20 L799.45,514.35 L801.09,514.50 L802.73,514.64 L804.37,514.79 L806.02,514.93 L807.67,515.07 L809.32,515.22 L810.98,515.36 L812.64,515.50 L814.30,515.64 L815.96,515.78 L817.62,515.92 L819.29,516.06 L820.96,516.20 L822.63,516.34 L824.31,516.48 L825.98,516.62 L827.66,516.76 L829.35,516.90 L831.03,517.04 L832.72,517.17 L834.41,517.31 L836.10,517.45 L837.79,517.59 L839.49,517.72 L841.19,517.86 L842.89,518.00 L844.59,518.13 L846.30,518.27" stroke="#ff0000" stroke-width="2.5" fill="none" stroke-dasharray="22.45 10.19 23.2 10.19 23.2 10.19 23.2 10.19 23.2 10.19 23.2 10.19 23.2 10.19 23.2 10.19 23.2 10.19 23.2 10.19 23.2 10.19 23.2 10.19 23.2 10.19 23.2 10.19 23.2 10.19 23.2 10.19 23.2 10.19 23.2 10.19 23.2 10.19 23.2 10.19 23.2 10.19 23.2 10.19 23.2 10.19 23.2 10.19 23.2 10.19 23.2 10.19 23.2 10.19 23.2 10.19 23.2 10.19 23.2 10.19 23.2 10.19 23.2 10.19 23.2 10.19 23.2 10.19 23.2 10.19 23.2 10.19 23.2 10.19 23.2 10.19 23.2 10.19 23.2 10.19 23.2 10.19 23.2 10.19 23.2 10.19 23.2 10.19 23.2 10.19"/>
<path d="M51.00,538.00 L304.60,538.00 L304.60,536.90 L304.60,535.80 L304.61,534.69 L304.62,533.59 L304.63,532.47 L304.64,531.36 L304.65,530.25 L304.67,529.13 L304.69,528.01 L304.71,526.88 L304.73,525.76 L304.76,524.63 L304.79,523.50 L304.82,522.37 L304.85,521.24 L304.88,520.11 L304.92,518.97 L304.96,517.83 L305.00,516.70 L305.04,515.56 L305.09,514.41 L305.14,513.27 L305.19,512.13 L305.24,510.99 L305.29,509.84 L305.35,508.70 L305.41,507.55 L305.47,506.41 L305.53,505.26 L305.60,504.12 L305.67,502.97 L305.74,501.82 L305.81,500.68 L305.88,499.53 L305.96,498.39 L306.04,497.24 L306.12,496.10 L306.20,494.95 L306.29,493.81 L306.37,492.67 L306.46,491.53 L306.56,490.39 L306.65,489.25 L306.75,488.11 L306.85,486.98 L306.95,485.85 L307.05,484.71 L307.15,483.58 L307.26,482.45 L307.37,481.33 L307.48,480.20 L307.60,479.08 L307.71,477.96 L307.83,476.84 L307.95,475.73 L308.08,474.61 L308.20,473.51 L308.33,472.40 L308.46,471.29 L308.59,470.19 L308.73,469.10 L308.86,468.00 L309.00,466.91 L309.14,465.82 L309.28,464.74 L309.43,463.66 L309.58,462.58 L309.73,461.51 L309.88,460.44 L310.03,459.38 L310.19,458.32 L310.35,457.26 L310.51,456.21 L310.67,455.17 L310.84,454.12 L311.00,453.09 L311.17,452.05 L311.35,451.03 L311.52,450.00 L311.70,448.99 L311.87,447.97 L312.05,446.97 L312.24,445.97 L312.42,444.97 L312.61,443.98 L312.80,443.00 L312.99,442.02 L313.19,441.04 L313.38,440.08 L313.58,439.12 L313.78,438.16 L313.98,437.21 L314.19,436.27 L314.40,435.34 L314.61,434.41 L314.82,433.49 L315.03,432.57 L315.25,431.66 L315.47,430.76 L315.69,429.86 L315.91,428.98 L316.13,428.09 L316.36,427.22 L316.59,426.35 L316.82,425.49 L317.06,424.64 L317.29,423.80 L317.53,422.96 L317.77,422.13 L318.01,421.31 L318.26,420.50 L318.51,419.69 L318.76,418.89 L319.01,418.10 L319.26,417.32 L319.52,416.54 L319.78,415.78 L320.04,415.02 L320.30,414.27 L320.56,413.53 L320.83,412.80 L321.10,412.07 L321.37,411.36 L321.65,410.65 L321.92,409.95 L322.20,409.26 L322.48,408.58 L322.76,407.90 L323.05,407.24 L323.34,406.58 L323.63,405.94 L323.92,405.30 L324.21,404.67 L324.51,404.05 L324.81,403.44 L325.11,402.84 L325.41,402.24 L325.71,401.66 L326.02,401.08 L326.33,400.52 L326.64,399.96 L326.96,399.41 L327.27,398.87 L327.59,398.34 L327.91,397.83 L328.23,397.31 L328.56,396.81 L328.88,396.32 L329.21,395.84 L329.55,395.36 L329.88,394.90 L330.21,394.45 L330.55,394.00 L330.89,393.56 L331.24,393.14 L331.58,392.72 L331.93,392.31 L332.28,391.91 L332.63,391.52 L332.98,391.14 L333.34,390.77 L333.70,390.41 L334.06,390.06 L334.42,389.72 L334.78,389.38 L335.15,389.06 L335.52,388.74 L335.89,388.44 L336.26,388.14 L336.64,387.85 L337.02,387.58 L337.40,387.31 L337.78,387.05 L338.17,386.80 L338.55,386.56 L338.94,386.33 L339.33,386.10 L339.73,385.89 L340.12,385.68 L340.52,385.49 L340.92,385.30 L341.32,385.12 L341.73,384.96 L342.14,384.80 L342.54,384.64 L342.96,384.50 L343.37,384.37 L343.79,384.24 L344.20,384.13 L344.62,384.02 L345.05,383.92 L345.47,383.83 L345.90,383.75 L346.33,383.67 L346.76,383.61 L347.19,383.55 L347.63,383.50 L348.06,383.46 L348.50,383.43 L348.95,383.41 L349.39,383.39 L349.84,383.39 L350.29,383.39 L350.74,383.40 L351.19,383.41 L351.65,383.44 L352.11,383.47 L352.57,383.51 L353.03,383.56 L353.49,383.61 L353.96,383.67 L354.43,383.74 L354.90,383.82 L355.37,383.91 L355.85,384.00 L356.33,384.10 L356.81,384.20 L357.29,384.32 L357.77,384.44 L358.26,384.57 L358.75,384.70 L359.24,384.84 L359.73,384.99 L360.23,385.14 L360.73,385.31 L361.23,385.47 L361.73,385.65 L362.23,385.83 L362.74,386.02 L363.25,386.21 L363.76,386.41 L364.27,386.62 L364.79,386.83 L365.31,387.05 L365.83,387.27 L366.35,387.50 L366.87,387.74 L367.40,387.98 L367.93,388.22 L368.46,388.48 L368.99,388.74 L369.53,389.00 L370.07,389.27 L370.61,389.54 L371.15,389.82 L371.69,390.11 L372.24,390.39 L372.79,390.69 L373.34,390.99 L373.89,391.29 L374.45,391.60 L375.01,391.92 L375.57,392.23 L376.13,392.56 L376.69,392.88 L377.26,393.21 L377.83,393.55 L378.40,393.89 L378.97,394.24 L379.55,394.58 L380.12,394.94 L380.70,395.29 L381.29,395.65 L381.87,396.02 L382.46,396.38 L383.05,396.76 L383.64,397.13 L384.23,397.51 L384.82,397.89 L385.42,398.28 L386.02,398.67 L386.62,399.06 L387.23,399.45 L387.83,399.85 L388.44,400.25 L389.05,400.66 L389.67,401.06 L390.28,401.47 L390.90,401.88 L391.52,402.30 L392.14,402.72 L392.77,403.14 L393.39,403.56 L394.02,403.99 L394.65,404.41 L395.29,404.84 L395.92,405.28 L396.56,405.71 L397.20,406.15 L397.84,406.59 L398.48,407.03 L399.13,407.47 L399.78,407.91 L400.43,408.36 L401.08,408.81 L401.74,409.26 L402.40,409.71 L403.05,410.16 L403.72,410.62 L404.38,411.07 L405.05,411.53 L405.72,411.99 L406.39,412.45 L407.06,412.91 L407.73,413.37 L408.41,413.83 L409.09,414.30 L409.77,414.76 L410.46,415.23 L411.14,415.70 L411.83,416.16 L412.52,416.63 L413.22,417.10 L413.91,417.57 L414.61,418.04 L415.31,418.51 L416.01,418.99 L416.71,419.46 L417.42,419.93 L418.13,420.41 L418.84,420.88 L419.55,421.35 L420.27,421.83 L420.98,422.30 L421.70,422.78 L422.43,423.25 L423.15,423.73 L423.88,424.20 L424.60,424.68 L425.33,425.15 L426.07,425.63 L426.80,426.10 L427.54,426.58 L428.28,427.05 L429.02,427.53 L429.77,428.00 L430.51,428.47 L431.26,428.95 L432.01,429.42 L432.76,429.89 L433.52,430.37 L434.28,430.84 L435.03,431.31 L435.80,431.78 L436.56,432.25 L437.33,432.72 L438.09,433.19 L438.87,433.66 L439.64,434.13 L440.41,434.59 L441.19,435.06 L441.97,435.53 L442.75,435.99 L443.53,436.46 L444.32,436.92 L445.11,437.38 L445.90,437.84 L446.69,438.30 L447.49,438.76 L448.28,439.22 L449.08,439.68 L449.89,440.14 L450.69,440.59 L451.50,441.05 L452.30,441.50 L453.11,441.95 L453.93,442.41 L454.74,442.86 L455.56,443.31 L456.38,443.75 L457.20,444.20 L458.02,444.65 L458.85,445.09 L459.68,445.53 L460.51,445.98 L461.34,446.42 L462.17,446.86 L463.01,447.29 L463.85,447.73 L464.69,448.17 L465.54,448.60 L466.38,449.03 L467.23,449.46 L468.08,449.89 L468.93,450.32 L469.79,450.75 L470.65,451.18 L471.50,451.60 L472.37,452.02 L473.23,452.44 L474.10,452.86 L474.96,453.28 L475.83,453.70 L476.71,454.11 L477.58,454.53 L478.46,454.94 L479.34,455.35 L480.22,455.76 L481.10,456.17 L481.99,456.58 L482.88,456.98 L483.77,457.38 L484.66,457.79 L485.55,458.19 L486.45,458.58 L487.35,458.98 L488.25,459.38 L489.15,459.77 L490.06,460.16 L490.97,460.55 L491.88,460.94 L492.79,461.33 L493.71,461.72 L494.62,462.10 L495.54,462.48 L496.46,462.87 L497.39,463.25 L498.31,463.62 L499.24,464.00 L500.17,464.37 L501.10,464.75 L502.04,465.12 L502.97,465.49 L503.91,465.86 L504.85,466.22 L505.80,466.59 L506.74,466.95 L507.69,467.31 L508.64,467.67 L509.59,468.03 L510.55,468.39 L511.51,468.74 L512.46,469.10 L513.43,469.45 L514.39,469.80 L515.35,470.15 L516.32,470.50 L517.29,470.84 L518.27,471.19 L519.24,471.53 L520.22,471.87 L521.20,472.21 L522.18,472.55 L523.16,472.88 L524.15,473.22 L525.13,473.55 L526.12,473.88 L527.12,474.21 L528.11,474.54 L529.11,474.87 L530.11,475.19 L531.11,475.52 L532.11,475.84 L533.12,476.16 L534.12,476.48 L535.13,476.79 L536.15,477.11 L537.16,477.42 L538.18,477.74 L539.20,478.05 L540.22,478.36 L541.24,478.67 L542.27,478.97 L543.29,479.28 L544.32,479.58 L545.36,479.89 L546.39,480.19 L547.43,480.49 L548.47,480.78 L549.51,481.08 L550.55,481.37 L551.60,481.67 L552.64,481.96 L553.69,482.25 L554.74,482.54 L555.80,482.83 L556.86,483.11 L557.91,483.40 L558.98,483.68 L560.04,483.96 L561.10,484.24 L562.17,484.52 L563.24,484.80 L564.31,485.08 L565.39,485.35 L566.46,485.63 L567.54,485.90 L568.62,486.17 L569.71,486.44 L570.79,486.71 L571.88,486.97 L572.97,487.24 L574.06,487.50 L575.16,487.77 L576.25,488.03 L577.35,488.29 L578.45,488.55 L579.56,488.80 L580.66,489.06 L581.77,489.32 L582.88,489.57 L583.99,489.82 L585.10,490.07 L586.22,490.32 L587.34,490.57 L588.46,490.82 L589.58,491.07 L590.71,491.31 L591.84,491.55 L592.97,491.80 L594.10,492.04 L595.23,492.28 L596.37,492.52 L597.51,492.76 L598.65,492.99 L599.79,493.23 L600.94,493.46 L602.08,493.69 L603.23,493.93 L604.39,494.16 L605.54,494.39 L606.70,494.61 L607.85,494.84 L609.02,495.07 L610.18,495.29 L611.34,495.52 L612.51,495.74 L613.68,495.96 L614.85,496.18 L616.03,496.40 L617.20,496.62 L618.38,496.84 L619.56,497.05 L620.75,497.27 L621.93,497.48 L623.12,497.69 L624.31,497.91 L625.50,498.12 L626.69,498.33 L627.89,498.53 L629.09,498.74 L630.29,498.95 L631.49,499.15 L632.70,499.36 L633.90,499.56 L635.11,499.76 L636.33,499.97 L637.54,500.17 L638.76,500.36 L639.97,500.56 L641.20,500.76 L642.42,500.96 L643.64,501.15 L644.87,501.35 L646.10,501.54 L647.33,501.73 L648.57,501.92 L649.80,502.11 L651.04,502.30 L652.28,502.49 L653.52,502.68 L654.77,502.87 L656.02,503.05 L657.27,503.24 L658.52,503.42 L659.77,503.60 L661.03,503.79 L662.29,503.97 L663.55,504.15 L664.81,504.33 L666.07,504.50 L667.34,504.68 L668.61,504.86 L669.88,505.03 L671.16,505.21 L672.43,505.38 L673.71,505.55 L674.99,505.73 L676.27,505.90 L677.56,506.07 L678.85,506.24 L680.14,506.40 L681.43,506.57 L682.72,506.74 L684.02,506.90 L685.31,507.07 L686.62,507.23 L687.92,507.39 L689.22,507.56 L690.53,507.72 L691.84,507.88 L693.15,508.04 L694.46,508.20 L695.78,508.35 L697.10,508.51 L698.42,508.67 L699.74,508.82 L701.07,508.98 L702.39,509.13 L703.72,509.28 L705.05,509.43 L706.39,509.58 L707.72,509.73 L709.06,509.88 L710.40,510.03 L711.75,510.18 L713.09,510.33 L714.44,510.47 L715.79,510.62 L717.14,510.76 L718.49,510.90 L719.85,511.05 L721.21,511.19 L722.57,511.33 L723.93,511.47 L725.29,511.61 L726.66,511.75 L728.03,511.88 L729.40,512.02 L730.77,512.16 L732.15,512.29 L733.53,512.43 L734.91,512.56 L736.29,512.69 L737.68,512.82 L739.06,512.95 L740.45,513.08 L741.84,513.21 L743.24,513.34 L744.63,513.47 L746.03,513.59 L747.43,513.72 L748.83,513.85 L750.24,513.97 L751.65,514.09 L753.05,514.21 L754.47,514.34 L755.88,514.46 L757.30,514.58 L758.71,514.70 L760.13,514.81 L761.56,514.93 L762.98,515.05 L764.41,515.16 L765.84,515.28 L767.27,515.39 L768.70,515.51 L770.14,515.62 L771.58,515.73 L773.02,515.84 L774.46,515.95 L775.90,516.06 L777.35,516.17 L778.80,516.27 L780.25,516.38 L781.70,516.48 L783.16,516.59 L784.62,516.69 L786.08,516.79 L787.54,516.90 L789.00,517.00 L790.47,517.10 L791.94,517.20 L793.41,517.30 L794.88,517.39 L796.36,517.49 L797.84,517.59 L799.32,517.68 L800.80,517.77 L802.28,517.87 L803.77,517.96 L805.26,518.05 L806.75,518.14 L808.24,518.23 L809.74,518.32 L811.24,518.41 L812.74,518.49 L814.24,518.58 L815.74,518.66 L817.25,518.75 L818.76,518.83 L820.27,518.91 L821.78,518.99 L823.30,519.07 L824.82,519.15 L826.34,519.23 L827.86,519.31 L829.38,519.38 L830.91,519.46 L832.44,519.53 L833.97,519.61 L835.50,519.68 L837.04,519.75 L838.58,519.82 L840.12,519.89 L841.66,519.96 L843.20,520.02 L844.75,520.09 L846.30,520.16" stroke="#ff0000" stroke-width="3.9" fill="none" stroke-linejoin="miter"/>
<path d="M51,50.9 V543 M51,538 H846.1" stroke="#000" stroke-width="1.9" fill="none"/>
<path d="M100.55,538 V531 M150.20,538 V531 M199.85,538 V531 M249.50,538 V531 M299.15,538 V531 M348.80,538 V531 M398.45,538 V531 M448.10,538 V531 M497.75,538 V531 M547.40,538 V531 M597.05,538 V531 M646.70,538 V531 M696.35,538 V531 M746.00,538 V531 M795.65,538 V531 M845.30,538 V531 M51,489.37 H57.8 M51,440.74 H57.8 M51,392.11 H57.8 M51,343.48 H57.8 M51,294.85 H57.8 M51,246.22 H57.8 M51,197.59 H57.8 M51,148.96 H57.8 M51,100.33 H57.8 M51,51.70 H57.8" stroke="#000" stroke-width="1.6" fill="none"/>
<path d="M76.3,27 V38.3 M81.3,27 V38.3" stroke="#000" stroke-width="1.3" fill="none"/>
<path d="M135.7,471.2 h18.2 v3 h-18.2z M135.7,478.7 h18.2 v3 h-18.2z M116,503 h18 v3 h-18z M116,510.5 h18 v3 h-18z" fill="#000"/>
<path d="M163.3,521.9 h3.2 L173.75,493.75 h-3.2z" fill="#000"/>
<path d="M868.8,531.8 C870,528 872.6,528.1 874.6,530 S878.6,532 880.7,528.4" stroke="#000" stroke-width="1.5" fill="none"/>
</svg>
<div class="t n" id="yl" style="left:4px;top:3px;">Im[<span class="i">n</span></div>
<div class="t n" id="yr" style="left:84.8px;top:3px;">]</div>
<div class="t n" id="l04" style="right:855px;top:131px;">0.4</div>
<div class="t n" id="l02" style="right:855px;top:326px;">0.2</div>
<div class="t n" id="l00" style="right:855px;top:520px;">0.</div>
<div class="t n" id="x2" style="left:240.3px;top:546px;">2</div>
<div class="t n" id="x4" style="left:439.3px;top:546px;">4</div>
<div class="t n" id="x6" style="left:637.8px;top:546px;">6</div>
<div class="t n" id="x8" style="left:836.3px;top:546px;">8</div>
<div class="t b" id="br" style="left:89.3px;top:457.7px;">Br</div>
<div class="t b" id="n500" style="left:164.1px;top:456.65px;font-size:33.5px;">500</div>
<div class="t b i" id="th" style="left:90px;top:489.7px;">&theta;</div>
<div class="t b i" id="pi" style="left:143.9px;top:488px;font-size:34px;">&pi;</div>
<div class="t b" id="n4" style="left:172.7px;top:488.45px;font-size:33.5px;">4</div>
<div class="t n i" id="om" style="left:860.8px;top:519.8px;">&omega;</div>
<div class="t" id="sup2" style="left:886px;top:514.6px;font-size:26px;">2</div>
</body></html>
